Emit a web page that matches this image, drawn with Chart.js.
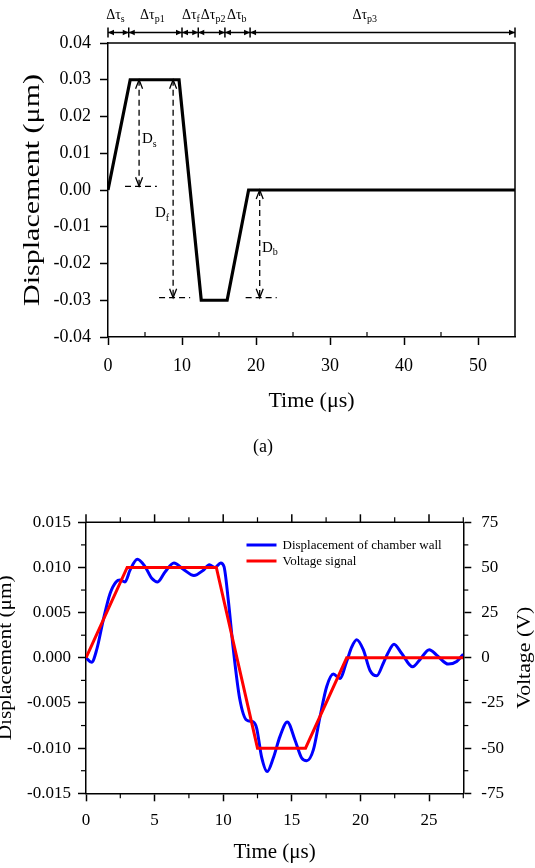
<!DOCTYPE html>
<html><head><meta charset="utf-8">
<script src="https://cdn.jsdelivr.net/npm/chart.js@4.4.1/dist/chart.umd.min.js"></script>
<style>
html,body{margin:0;padding:0;background:#fff;width:535px;height:868px;overflow:hidden;}
#wrapA{position:absolute;left:0;top:0;width:535px;height:470px;}
#wrapB{position:absolute;left:0;top:470px;width:535px;height:398px;}
canvas{display:block;}
</style></head><body>
<div id="wrapA"><canvas id="cA" width="535" height="470"></canvas></div>
<div id="wrapB"><canvas id="cB" width="535" height="398"></canvas></div>
<script>
// ---------- (a) schematic ----------
const topTime = [0, 3, 9.6, 12.6, 16.1, 19, 55];
const topDisp = [0, 0.03, 0.03, -0.03, -0.03, 0, 0];
const topXTicks = [0, 10, 20, 30, 40, 50];
const topXMinor = [5, 15, 25, 35, 45];
const topYTicks = [-0.04, -0.03, -0.02, -0.01, 0, 0.01, 0.02, 0.03, 0.04];
const topYLabels = ['-0.04', '-0.03', '-0.02', '-0.01', '0.00', '0.01', '0.02', '0.03', '0.04'];
const intervalBounds = [0, 2.8, 10, 12.2, 15.8, 19.2, 55];
const intervalSubs = ['s', 'p1', 'f', 'p2', 'b', 'p3'];
const intervalLabelX = [1.0, 6.0, 11.2, 14.2, 17.4, 34.7];
const dimSubs = ['s', 'f', 'b'];
const dimX = [4.2, 8.8, 20.5];
const dimFrom = [0.03, 0.03, 0];
const dimTo = [0.001, -0.0293, -0.0293];
const dimBaseFrom = [2.3, 6.9, 18.6];
const dimBaseTo = [6.6, 11.1, 22.8];
const dimLabelX = [4.6, 6.35, 20.8];
const dimLabelY = [0.0141, -0.006, -0.0155];

// ---------- (b) measured ----------
const botTime = [0, 0.41, 0.78, 1.26, 1.75, 2.19, 2.48, 2.84, 3.21, 3.74, 4.3, 4.79, 5.22, 5.76, 6.41, 7.09, 7.87, 8.55, 8.99, 9.4, 9.82, 10.06, 10.37, 10.74, 11.2, 11.71, 12.19, 12.44, 12.8, 13.21, 13.65, 14.14, 14.67, 15.23, 15.72, 16.09, 16.57, 17.06, 17.54, 18.03, 18.5, 19.0, 19.37, 19.73, 20.21, 20.7, 21.19, 21.67, 22.0, 22.45, 23.0, 23.81, 24.34, 25.02, 25.56, 26.41, 27.02, 27.5];
const botDisp = [0, -0.0005, 0.0009, 0.0042, 0.0071, 0.0084, 0.0086, 0.0084, 0.0097, 0.0109, 0.0101, 0.0088, 0.0084, 0.0095, 0.0105, 0.0098, 0.0091, 0.0097, 0.0103, 0.0100, 0.0105, 0.0101, 0.0064, 0.0009, -0.0045, -0.0069, -0.0071, -0.0078, -0.0110, -0.0126, -0.0111, -0.0087, -0.0071, -0.0091, -0.0111, -0.0114, -0.0102, -0.0065, -0.0032, -0.0018, -0.0023, -0.0004, 0.0012, 0.0020, 0.0009, -0.0014, -0.0020, -0.0006, 0.0005, 0.0015, 0.0005, -0.0010, -0.0002, 0.0009, 0.0003, -0.0007, -0.0004, 0.0004];
const voltTime = [0, 3, 9.5, 12.5, 16, 19, 27.5];
const voltVal = [0, 50, 50, -50, -50, 0, 0];
const seriesNames = ['Displacement of chamber wall', 'Voltage signal'];
const botXTicks = [0, 5, 10, 15, 20, 25];
const botXMinor = [2.5, 7.5, 12.5, 17.5, 22.5, 27.5];
const botYTicks = [-0.015, -0.01, -0.005, 0, 0.005, 0.01, 0.015];
const botYLabels = ['-0.015', '-0.010', '-0.005', '0.000', '0.005', '0.010', '0.015'];
const botYMinor = [-0.0125, -0.0075, -0.0025, 0.0025, 0.0075, 0.0125];
const voltTicks = [-75, -50, -25, 0, 25, 50, 75];
const voltLabels = ['-75', '-50', '-25', '0', '25', '50', '75'];
const voltMinor = [-62.5, -37.5, -12.5, 12.5, 37.5, 62.5];

const FONT = '"Liberation Serif", "Times New Roman", serif';
Chart.defaults.font.family = FONT;
Chart.defaults.color = '#000';

function axisCfg(values, labels, extra) {
  return Object.assign({
    type: 'linear',
    afterBuildTicks: s => { s.ticks = values.map(v => ({ value: v })); },
    grid: { drawOnChartArea: false, drawTicks: true, tickLength: 8, tickWidth: 1.5, tickColor: '#000' },
    border: { display: true, color: '#000', width: 1.5 },
    ticks: { autoSkip: false, maxRotation: 0, color: '#000',
      callback: (v, i) => labels ? labels[i] : String(v) }
  }, extra);
}

function line(ctx, x1, y1, x2, y2) { ctx.beginPath(); ctx.moveTo(x1, y1); ctx.lineTo(x2, y2); ctx.stroke(); }
function subText(ctx, main, sub, x, y, size, subSize, align) {
  ctx.font = size + 'px ' + FONT;
  const w1 = ctx.measureText(main).width;
  ctx.font = subSize + 'px ' + FONT;
  const w2 = ctx.measureText(sub).width;
  const x0 = align === 'center' ? x - (w1 + w2) / 2 : x;
  ctx.textAlign = 'left'; ctx.textBaseline = 'alphabetic';
  ctx.font = size + 'px ' + FONT; ctx.fillText(main, x0, y);
  ctx.font = subSize + 'px ' + FONT; ctx.fillText(sub, x0 + w1, y + subSize * 0.35);
}
function vText(ctx, text, bx, cy, size, len) {
  ctx.save();
  ctx.font = size + 'px ' + FONT;
  const w = ctx.measureText(text).width;
  ctx.translate(bx, cy); ctx.rotate(-Math.PI / 2); ctx.scale(len / w, 1);
  ctx.textAlign = 'center'; ctx.textBaseline = 'alphabetic';
  ctx.fillText(text, 0, 0);
  ctx.restore();
}
function hText(ctx, text, cx, cy, size) {
  ctx.font = size + 'px ' + FONT;
  ctx.textAlign = 'center'; ctx.textBaseline = 'middle';
  ctx.fillText(text, cx, cy);
}

const annotA = {
  id: 'annotA',
  afterDraw(chart) {
    const { ctx, chartArea: ca, scales: { x, y } } = chart;
    ctx.save();
    ctx.strokeStyle = '#000'; ctx.fillStyle = '#000';
    ctx.lineWidth = 1.5;
    ctx.beginPath(); ctx.moveTo(ca.left, ca.top); ctx.lineTo(ca.right, ca.top); ctx.lineTo(ca.right, ca.bottom); ctx.stroke();
    ctx.lineWidth = 1.2;
    topXMinor.forEach(v => { const p = x.getPixelForValue(v); line(ctx, p, ca.bottom, p, ca.bottom - 5); });
    // dimension arrows D
    ctx.lineWidth = 1.3;
    dimX.forEach((dx, i) => {
      const px = x.getPixelForValue(dx), y1 = y.getPixelForValue(dimFrom[i]), y2 = y.getPixelForValue(dimTo[i]);
      ctx.setLineDash([6, 4]);
      line(ctx, px, y1, px, y2);
      line(ctx, x.getPixelForValue(dimBaseFrom[i]), y2, x.getPixelForValue(dimBaseTo[i]), y2);
      ctx.setLineDash([]);
      ctx.beginPath(); ctx.moveTo(px - 3.5, y1 + 9); ctx.lineTo(px, y1); ctx.lineTo(px + 3.5, y1 + 9); ctx.stroke();
      ctx.beginPath(); ctx.moveTo(px - 3.5, y2 - 9); ctx.lineTo(px, y2); ctx.lineTo(px + 3.5, y2 - 9); ctx.stroke();
      subText(ctx, 'D', dimSubs[i], x.getPixelForValue(dimLabelX[i]), y.getPixelForValue(dimLabelY[i]) + 5, 15, 10, 'left');
    });
    // interval row
    const yy = ca.top - 10.5;
    ctx.lineWidth = 1.5;
    const b = intervalBounds.map(v => x.getPixelForValue(v));
    line(ctx, b[0], yy, b[b.length - 1], yy);
    b.forEach(p => line(ctx, p, yy - 5, p, yy + 5));
    for (let i = 0; i < b.length - 1; i++) {
      const a = b[i], c = b[i + 1];
      ctx.beginPath(); ctx.moveTo(a, yy); ctx.lineTo(a + 6, yy - 2.8); ctx.lineTo(a + 6, yy + 2.8); ctx.closePath(); ctx.fill();
      ctx.beginPath(); ctx.moveTo(c, yy); ctx.lineTo(c - 6, yy - 2.8); ctx.lineTo(c - 6, yy + 2.8); ctx.closePath(); ctx.fill();
      subText(ctx, 'Δτ', intervalSubs[i], x.getPixelForValue(intervalLabelX[i]), ca.top - 24.5, 14, 10, 'center');
    }
    // titles
    hText(ctx, 'Time (μs)', (ca.left + ca.right) / 2, 401, 22);
    vText(ctx, 'Displacement (μm)', 38.5, (ca.top + ca.bottom) / 2, 24, 232);
    hText(ctx, '(a)', 263, 447, 18);
    ctx.restore();
  }
};

new Chart(document.getElementById('cA'), {
  type: 'line',
  data: { datasets: [{
    data: topTime.map((t, i) => ({ x: t, y: topDisp[i] })),
    borderColor: '#000', borderWidth: 3.2, pointRadius: 0, tension: 0, borderJoinStyle: 'miter', fill: false
  }] },
  options: {
    responsive: false, animation: false, events: [],
    layout: { padding: { left: 0, top: 43, right: 20, bottom: 0 } },
    plugins: { legend: { display: false }, tooltip: { enabled: false } },
    scales: {
      x: axisCfg(topXTicks, null, { min: 0, max: 55, afterFit: s => { s.height = 133; },
        ticks: { autoSkip: false, maxRotation: 0, color: '#000', padding: 10, font: { size: 18 } } }),
      y: axisCfg(topYTicks, topYLabels, { min: -0.04, max: 0.04, afterFit: s => { s.width = 108; } })
    }
  },
  plugins: [annotA]
});
// fix y tick font/padding for top chart (merge)
(function(){ const c = Chart.getChart('cA'); c.options.scales.y.ticks.font = { size: 18 }; c.options.scales.y.ticks.padding = 9; c.update('none'); })();

const annotB = {
  id: 'annotB',
  afterDraw(chart) {
    const { ctx, chartArea: ca, scales: { x, y, y1 } } = chart;
    ctx.save();
    ctx.strokeStyle = '#000'; ctx.fillStyle = '#000';
    ctx.lineWidth = 1.5;
    line(ctx, ca.left, ca.top, ca.right, ca.top);
    botXTicks.forEach(v => { const p = x.getPixelForValue(v); line(ctx, p, ca.top, p, ca.top - 8); });
    ctx.lineWidth = 1.2;
    botXMinor.forEach(v => { const p = x.getPixelForValue(v);
      line(ctx, p, ca.top, p, ca.top - 5); line(ctx, p, ca.bottom, p, ca.bottom + 5); });
    botYMinor.forEach(v => { const p = y.getPixelForValue(v); line(ctx, ca.left, p, ca.left - 5, p); });
    voltMinor.forEach(v => { const p = y1.getPixelForValue(v); line(ctx, ca.right, p, ca.right + 5, p); });
    // legend
    const ds = chart.data.datasets;
    const order = [0, 1];
    order.forEach((k, j) => {
      const ly = 75 + j * 16;
      ctx.strokeStyle = ds[k].borderColor; ctx.lineWidth = 3;
      line(ctx, 246.5, ly, 276.5, ly);
      ctx.fillStyle = '#000'; ctx.font = '13px ' + FONT; ctx.textAlign = 'left'; ctx.textBaseline = 'middle';
      ctx.fillText(ds[k].label, 282.5, ly + 0.5);
    });
    ctx.fillStyle = '#000';
    hText(ctx, 'Time (μs)', (ca.left + ca.right) / 2, 382, 21);
    vText(ctx, 'Displacement (μm)', 11, (ca.top + ca.bottom) / 2, 19, 165);
    vText(ctx, 'Voltage (V)', 530, (ca.top + ca.bottom) / 2, 19, 102);
    ctx.restore();
  }
};

new Chart(document.getElementById('cB'), {
  type: 'line',
  data: { datasets: [
    { label: seriesNames[0], yAxisID: 'y', order: 1,
      data: botTime.map((t, i) => ({ x: t, y: botDisp[i] })),
      borderColor: '#0000ff', borderWidth: 3, pointRadius: 0, cubicInterpolationMode: 'monotone', fill: false },
    { label: seriesNames[1], yAxisID: 'y1', order: 0,
      data: voltTime.map((t, i) => ({ x: t, y: voltVal[i] })),
      borderColor: '#ff0000', borderWidth: 3, pointRadius: 0, tension: 0, borderJoinStyle: 'miter', fill: false }
  ] },
  options: {
    responsive: false, animation: false, events: [],
    layout: { padding: { left: 0, top: 52.3, right: 0, bottom: 0 } },
    plugins: { legend: { display: false }, tooltip: { enabled: false } },
    scales: {
      x: axisCfg(botXTicks, null, { min: 0, max: 27.5, afterFit: s => { s.height = 74.7; },
        ticks: { autoSkip: false, maxRotation: 0, color: '#000', padding: 9, font: { size: 17 } } }),
      y: axisCfg(botYTicks, botYLabels, { position: 'left', min: -0.015, max: 0.015, afterFit: s => { s.width = 86; } }),
      y1: axisCfg(voltTicks, voltLabels, { position: 'right', min: -75, max: 75, afterFit: s => { s.width = 71.7; } })
    }
  },
  plugins: [annotB]
});
(function(){ const c = Chart.getChart('cB');
  c.options.scales.y.ticks.font = { size: 17 }; c.options.scales.y.ticks.padding = 7;
  c.options.scales.y1.ticks.font = { size: 17 }; c.options.scales.y1.ticks.padding = 10;
  c.update('none'); })();
</script>
</body></html>
